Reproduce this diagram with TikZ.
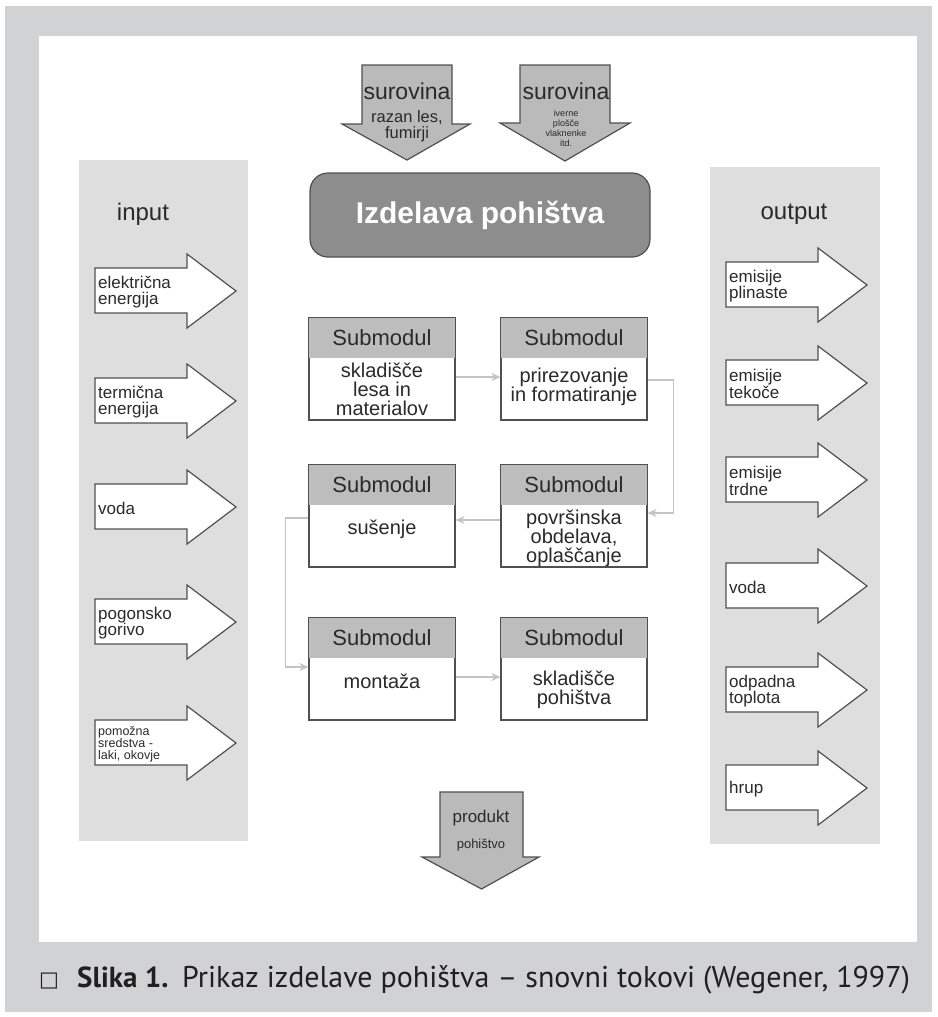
\documentclass[tikz,border=0pt]{standalone}
\usepackage{fontspec}
\setmainfont{Liberation Sans}
\newfontfamily\capfont{PT Sans}
\newfontfamily\symfont{DejaVu Sans}
\usetikzlibrary{arrows.meta}
\definecolor{outergrey}{HTML}{D1D2D4}
\definecolor{bandgrey}{HTML}{DEDEDE}
\definecolor{arrowgrey}{HTML}{BABABA}
\definecolor{maingrey}{HTML}{8D8D8D}
\definecolor{hdrgrey}{HTML}{BDBDBD}
\definecolor{conngrey}{HTML}{C4C4C4}
\definecolor{linegrey}{HTML}{505050}
\definecolor{txtgrey}{HTML}{2A2A2A}
\definecolor{capcol}{HTML}{231F20}
\tikzset{
  barrow/.style={draw=linegrey, line width=1.2pt, fill=white, line join=miter},
  darrowstyle/.style={draw=linegrey, line width=1.2pt, fill=arrowgrey, line join=miter},
  atext/.style={inner sep=0pt, align=left, text=txtgrey, anchor=west},
  normtext/.style={font=\fontsize{17}{16.5}\selectfont},
  smalltext/.style={font=\fontsize{12.5}{11.5}\selectfont},
  smbox/.style={draw=linegrey, line width=1.2pt, fill=white, minimum width=146pt, minimum height=102pt, inner sep=0pt},
  smhead/.style={inner sep=0pt, text=txtgrey, font=\fontsize{22}{22}\selectfont},
  smbody/.style={inner sep=0pt, align=center, text=txtgrey, font=\fontsize{20}{19}\selectfont},
  conn/.style={draw=conngrey, line width=1.6pt, -{Stealth[length=9pt,width=8pt]}},
  bandtitle/.style={inner sep=0pt, text=txtgrey, font=\fontsize{24}{24}\selectfont},
}
% right block arrow: name, left x, centre y, text style, text
\newcommand\rarrow[5]{%
  \draw[barrow] (#2,#3-23) -- (#2+92,#3-23) -- (#2+92,#3-37) -- (#2+141,#3)
     -- (#2+92,#3+37) -- (#2+92,#3+22) -- (#2,#3+22) -- cycle;
  \node[atext, #4] (#1) at (#2+3,#3+1) {#5};}
% down block arrow: body left, body right, top, head y, head left, head right, tip y
\newcommand\darrow[7]{%
  \draw[darrowstyle] (#1,#3) -- (#2,#3) -- (#2,#4) -- (#6,#4) -- ({(#1+#2)/2},#7)
     -- (#5,#4) -- (#1,#4) -- cycle;}
% submodule box: name, centre x, top y, body text, body centre y
\newcommand\smodule[5]{%
  \node[smbox] (#1) at (#2,#3+51) {};
  \fill[hdrgrey] (#2-73,#3) rectangle (#2+73,#3+40);
  \draw[draw=linegrey, line width=1.2pt] (#1.north west) rectangle (#1.south east);
  \node[smhead] (#1h) at (#2,#3+20) {Submodul};
  \node[smbody] (#1t) at (#2,#5) {#4};}
\begin{document}
\begin{tikzpicture}[x=1pt,y=-1pt]
\useasboundingbox (0,0) rectangle (937,1017);
\fill[white] (0,0) rectangle (937,1017);
\fill[outergrey] (5,6) rectangle (932,1012);
\fill[white] (39,36) rectangle (917,942);

% bands
\fill[bandgrey] (79,160) rectangle (248,841);
\fill[bandgrey] (710,167) rectangle (880,844);
\node[bandtitle] (input) at (143,214) {input};
\node[bandtitle] (output) at (794,214) {output};

% input arrows
\rarrow{in1}{95}{291}{normtext}{električna\\energija}
\rarrow{in2}{95}{401}{normtext}{termična\\energija}
\rarrow{in3}{95}{507}{normtext}{voda}
\rarrow{in4}{95}{622}{normtext}{pogonsko\\gorivo}
\rarrow{in5}{95}{743}{smalltext}{pomožna\\sredstva -\\laki, okovje}

% output arrows
\rarrow{out1}{726}{285}{normtext}{emisije\\plinaste}
\rarrow{out2}{726}{383}{normtext}{emisije\\tekoče}
\rarrow{out3}{726}{480}{normtext}{emisije\\trdne}
\rarrow{out4}{726}{586}{normtext}{voda}
\rarrow{out5}{726}{690}{normtext}{odpadna\\toplota}
\rarrow{out6}{726}{788}{normtext}{hrup}

% top raw-material arrows
\darrow{362}{452}{65}{124}{342}{470}{160}
\node[inner sep=0pt, text=txtgrey, font=\fontsize{23}{23}\selectfont] (sur1) at (407,91) {surovina};
\node[inner sep=0pt, text=txtgrey, align=center, font=\fontsize{16.5}{16}\selectfont] (sur1t) at (407,126) {razan les,\\fumirji};
\darrow{520}{610}{65}{123}{500}{630}{161}
\node[inner sep=0pt, text=txtgrey, font=\fontsize{23}{23}\selectfont] (sur2) at (566,91) {surovina};
\node[inner sep=0pt, text=txtgrey, align=center, font=\fontsize{9}{10}\selectfont] (sur2t) at (566,128) {iverne\\plošče\\vlaknenke\\itd.};

% main box
\node[draw=linegrey, line width=1.2pt, fill=maingrey, rounded corners=18pt,
      minimum width=340pt, minimum height=84pt, inner sep=0pt, text=white,
      font=\bfseries\fontsize{30}{30}\selectfont] (main) at (480,215) {Izdelava pohištva};

% submodules
\smodule{b1}{382}{318}{skladišče\\lesa in\\materialov}{389}
\smodule{b2}{574}{318}{prirezovanje\\in formatiranje}{387}
\smodule{b3}{382}{465}{sušenje}{529}
\smodule{b4}{574}{465}{površinska\\obdelava,\\oplaščanje}{538}
\smodule{b5}{382}{618}{montaža}{681}
\smodule{b6}{574}{618}{skladišče\\pohištva}{690}

% connectors
\draw[conn] ([yshift=-8pt]b1.east) -- ([yshift=-8pt]b2.west);
\draw[conn] ([yshift=-11pt]b2.east) -- ++(26,0) |- ([yshift=3pt]b4.east);
\draw[conn] ([yshift=-4pt]b4.west) -- ([yshift=-4pt]b3.east);
\draw[conn] ([yshift=-2pt]b3.west) -- ++(-23,0) |- ([yshift=2pt]b5.west);
\draw[conn] ([yshift=-8pt]b5.east) -- ([yshift=-8pt]b6.west);

% product arrow
\darrow{440}{523}{792}{857}{422}{539}{889}
\node[inner sep=0pt, text=txtgrey, font=\fontsize{17}{17}\selectfont] (prod) at (481,818) {produkt};
\node[inner sep=0pt, text=txtgrey, font=\fontsize{13}{13}\selectfont] (prodt) at (481,845) {pohištvo};

% caption
\node[anchor=base west, inner sep=0pt, text=capcol, font=\symfont\fontsize{21}{21}\selectfont] (capbox) at (39,986) {□};
\node[anchor=base west, inner sep=0pt, text=capcol, font=\capfont\bfseries\fontsize{29}{29}\selectfont] (capa) at (77,987) {Slika 1.};
\node[anchor=base west, inner sep=0pt, text=capcol, font=\capfont\fontsize{30}{30}\selectfont] (capb) at (182,987) {Prikaz izdelave pohištva – snovni tokovi (Wegener, 1997)};
\end{tikzpicture}
\end{document}
